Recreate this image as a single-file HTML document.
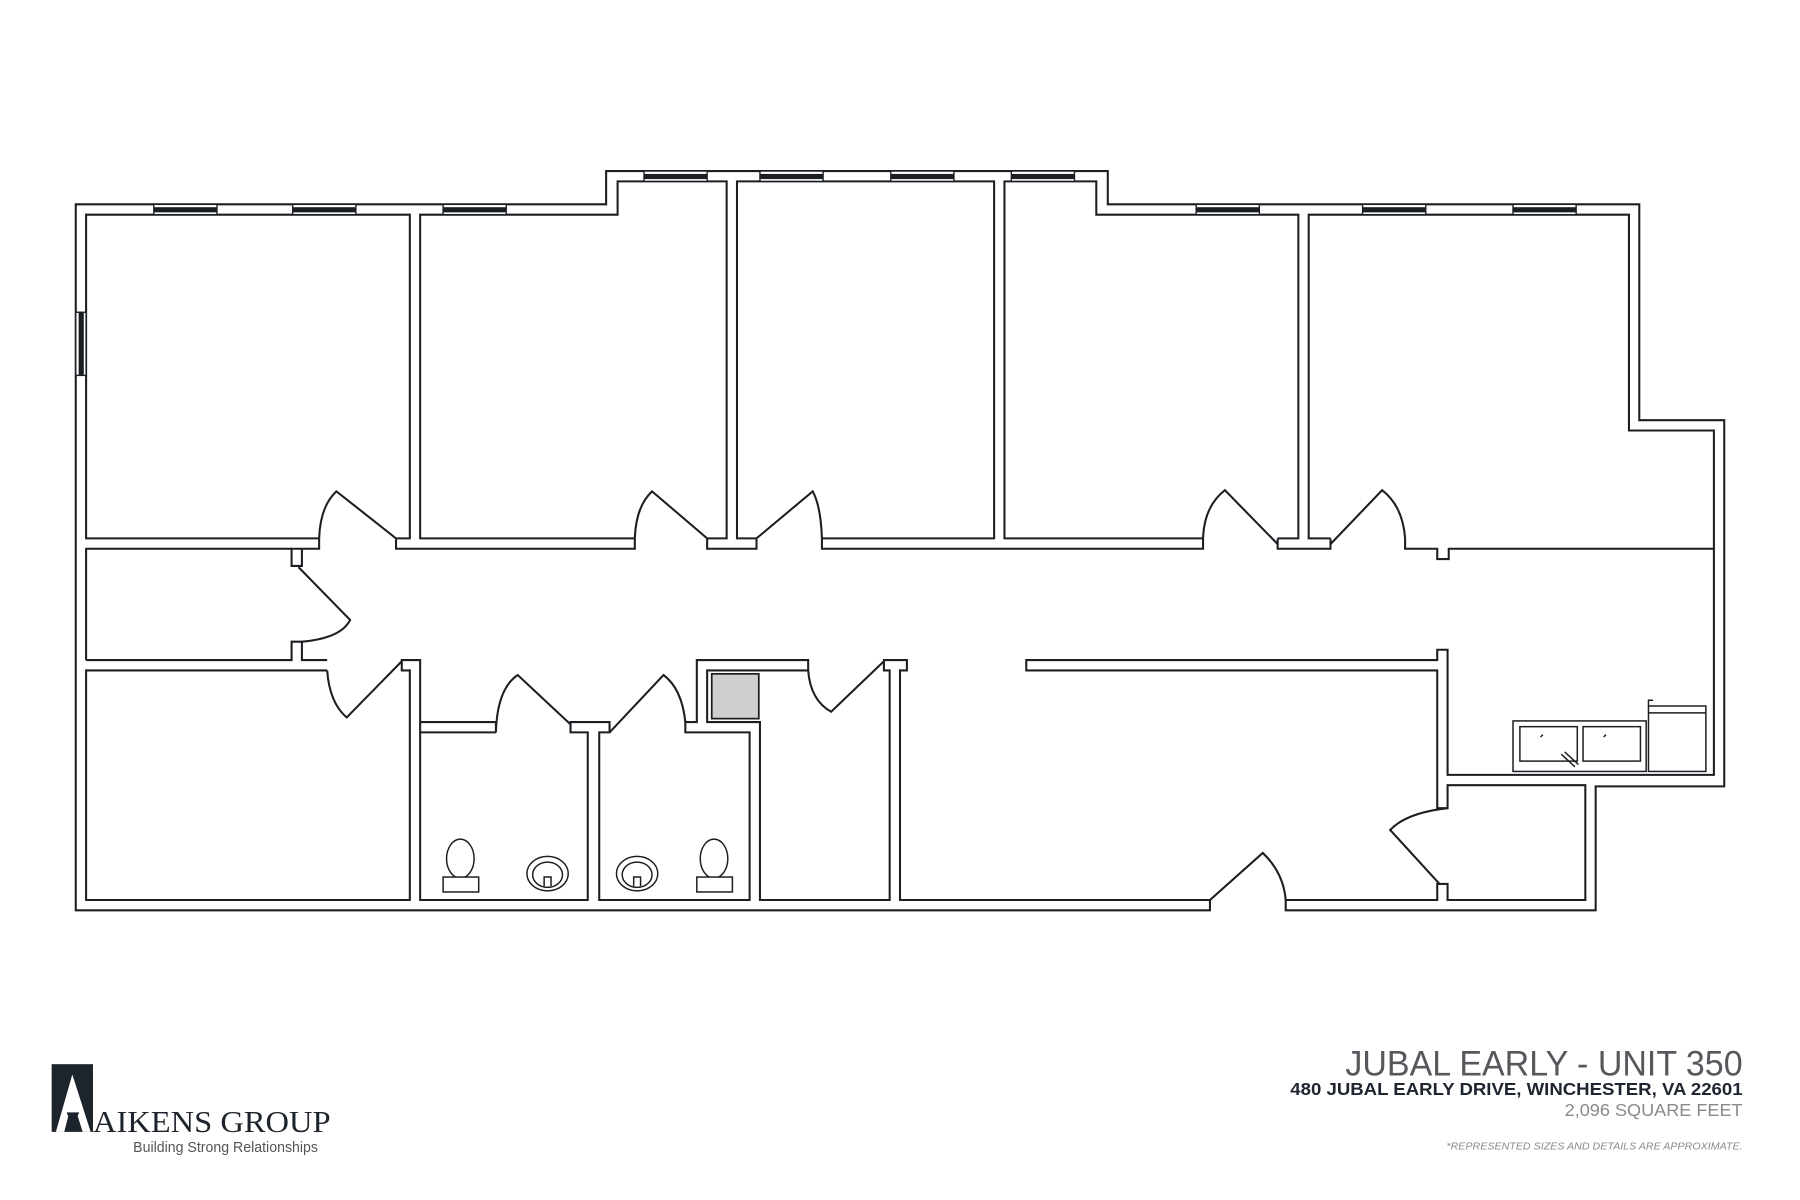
<!DOCTYPE html>
<html><head><meta charset="utf-8"><style>
html,body{margin:0;padding:0;background:#fff;}
svg{display:block;}
</style></head><body>
<svg width="1800" height="1200" viewBox="0 0 1568 1045.33" preserveAspectRatio="none" xmlns="http://www.w3.org/2000/svg">
<rect width="1568" height="1046" fill="#fff"/>
<g fill="none" stroke="#1b1e22" stroke-width="1.8" stroke-linejoin="miter">
<path d="M1054,784 V793 H66 V178 H528 V149 H965 V178 H1428 V366 H1502 V685 H1390 V793 H1120 V784"/>
<path d="M278,469 H75 V187 H357 V469 H345"/>
<path d="M553,469 H366 V187 H538 V158 H633 V469 H616"/>
<path d="M659,469 H642 V158 H866 V469 H716"/>
<path d="M1048,469 H875 V158 H955 V187 H1131 V469 H1113"/>
<path d="M1159,469 H1140 V187 H1419 V375 H1493 V675 H1261 V566 H1252 V575 H894 V584 H1252 V704 H1261 V684 H1381 V784 H1261 V770 H1252 V784 H1120"/>
<path d="M278,469 V478 H254 V493 H263 V478 H278"/>
<path d="M75,575 V478 H254"/>
<path d="M345,469 V478 H553 V469"/>
<path d="M616,469 V478 H659 V469"/>
<path d="M716,469 V478 H1048 V469"/>
<path d="M1113,469 V478 H1159 V469"/>
<path d="M1224,469 V478 H1252 V487 H1262 V478 H1493"/>
<path d="M75,575 H254 V559 H263 V575 H285"/>
<path d="M285,584 H75 V784 H357 V584 H350 V575 H366 V784 H512 V638 H497 V629 H531 V638 H522 V784 H653 V638 H597 V629 H607 V575 H704 V584 H616 V629 H662 V784 H775 V584 H770 V575 H790 V584 H784 V784 H1054"/>
<path d="M432,629 H366 M432,638 H366 M432,629 V638"/>
<path d="M278,469 Q279,441 293,428 L345,469"/>
<path d="M553,469 Q554,441 568,428 L616,469"/>
<path d="M659,469 L708,428 Q715,441 716,469"/>
<path d="M1048,469 Q1049,441 1067,427 L1113,474"/>
<path d="M1159,474 L1204,427 Q1222,441 1224,469"/>
<path d="M260,494 L305,540 Q297,556 263,559"/>
<path d="M285,584 Q287,612 302,625 L350,576"/>
<path d="M432,638 Q433,600 451,588 L497,631"/>
<path d="M531,638 L578,588 Q594,600 597,629"/>
<path d="M704,584 Q706,610 724,620 L770,576"/>
<path d="M1261,704 Q1225,708 1211,723 L1254,770"/>
<path d="M1054,784 L1100,743 Q1118,760 1120,784"/>
</g>
<g stroke="#1b1e22" stroke-width="1.2">
<g fill="#fff">
<rect x="134" y="178" width="55" height="9"/><rect x="255" y="178" width="55" height="9"/><rect x="386" y="178" width="55" height="9"/>
<rect x="561" y="149" width="55" height="9"/><rect x="662" y="149" width="55" height="9"/><rect x="776" y="149" width="55" height="9"/><rect x="881" y="149" width="55" height="9"/>
<rect x="1042" y="178" width="55" height="9"/><rect x="1187" y="178" width="55" height="9"/><rect x="1318" y="178" width="55" height="9"/>
<rect x="66" y="272" width="9" height="55"/>
</g>
<g fill="#1b1e22" stroke="none">
<rect x="134" y="180.5" width="55" height="4.5"/><rect x="255" y="180.5" width="55" height="4.5"/><rect x="386" y="180.5" width="55" height="4.5"/>
<rect x="561" y="151.5" width="55" height="4.5"/><rect x="662" y="151.5" width="55" height="4.5"/><rect x="776" y="151.5" width="55" height="4.5"/><rect x="881" y="151.5" width="55" height="4.5"/>
<rect x="1042" y="180.5" width="55" height="4.5"/><rect x="1187" y="180.5" width="55" height="4.5"/><rect x="1318" y="180.5" width="55" height="4.5"/>
<rect x="68.5" y="272" width="4.5" height="55"/>
</g>
</g>
<rect x="620" y="587" width="41" height="39" fill="#cfcfcf" stroke="#1b1e22" stroke-width="1.5"/>
<g fill="#fff" stroke="#1b1e22" stroke-width="1.3">
<ellipse cx="401" cy="748" rx="12" ry="17"/>
<rect x="386" y="764" width="31" height="13"/>
<ellipse cx="622" cy="748" rx="12" ry="17"/>
<rect x="607" y="764" width="31" height="13"/>
<ellipse cx="477" cy="761" rx="18" ry="15"/><ellipse cx="477" cy="762" rx="13" ry="11"/>
<ellipse cx="555" cy="761" rx="18" ry="15"/><ellipse cx="555" cy="762" rx="13" ry="11"/>
<path d="M474,772 V764 H480 V772 M552,772 V764 H558 V772"/>
<rect x="1318" y="628" width="116" height="44"/>
<rect x="1324" y="633" width="50" height="30"/>
<rect x="1379" y="633" width="50" height="30"/>
<rect x="1436" y="615" width="50" height="57"/>
<line x1="1436" y1="621" x2="1486" y2="621"/>
<path d="M1436,615 V610 H1440"/>
<path d="M1360,657 L1372,668 M1363,655 L1375,666"/>
<path d="M1342,642 l2,-2 M1397,642 l2,-2"/>
</g>
<rect x="45" y="927" width="36" height="59" fill="#1e242c"/>
<polygon points="63,936 48.7,986 56,986 60,970 67,970 72,986 79,986" fill="#fff"/>
<polygon points="58,969 69,969 63.5,982" fill="#1e242c"/>
<text x="81" y="986" font-family="Liberation Serif, serif" font-size="27" fill="#1e242c" textLength="207" lengthAdjust="spacingAndGlyphs">AIKENS GROUP</text>
<text x="116" y="1003.5" font-family="Liberation Sans, sans-serif" font-size="12.5" fill="#555" textLength="161" lengthAdjust="spacingAndGlyphs">Building Strong Relationships</text>
<g font-family="Liberation Sans, sans-serif" text-anchor="end">
<text x="1518" y="937" font-size="31" fill="#55585c" textLength="346" lengthAdjust="spacingAndGlyphs">JUBAL EARLY - UNIT 350</text>
<text x="1518" y="954" font-size="15.5" font-weight="bold" fill="#1f2530" textLength="394" lengthAdjust="spacingAndGlyphs">480 JUBAL EARLY DRIVE, WINCHESTER, VA 22601</text>
<text x="1518" y="972" font-size="15" fill="#8a8a8a" textLength="155" lengthAdjust="spacingAndGlyphs">2,096 SQUARE FEET</text>
<text x="1518" y="1001.5" font-size="9" font-style="italic" fill="#8a8a8a" textLength="258" lengthAdjust="spacingAndGlyphs">*REPRESENTED SIZES AND DETAILS ARE APPROXIMATE.</text>
</g>
</svg>
</body></html>
